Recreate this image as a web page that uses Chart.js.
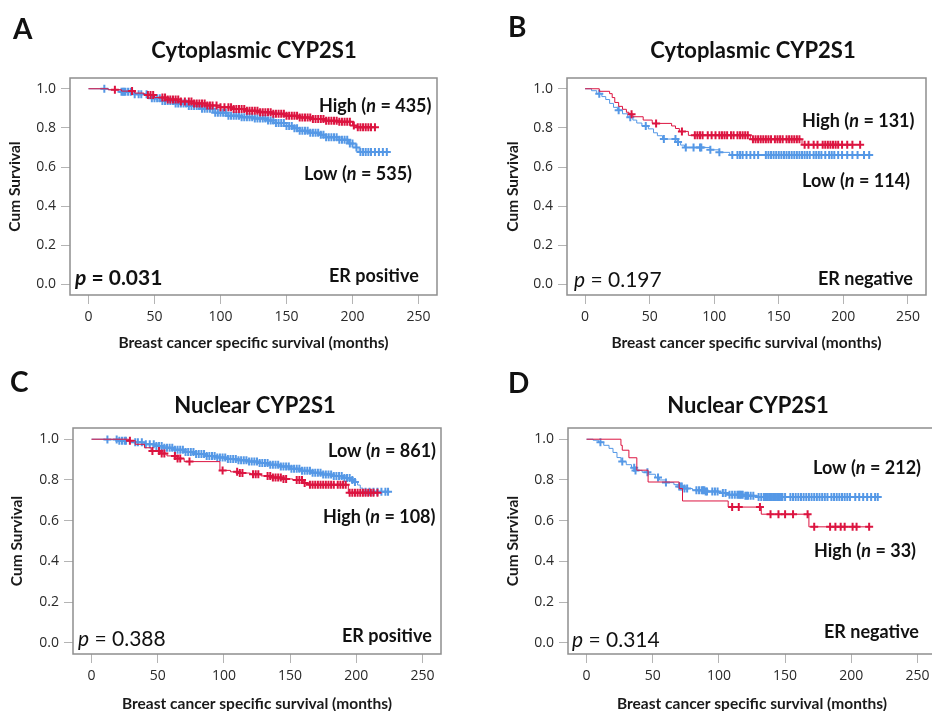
<!DOCTYPE html>
<html>
<head>
<meta charset="utf-8">
<script src="https://cdn.jsdelivr.net/npm/chart.js@4/dist/chart.umd.min.js"></script>
<style>
html, body { margin: 0; padding: 0; background: #fff; width: 932px; height: 711px; overflow: hidden; }
canvas { position: absolute; }
</style>
</head>
<body>
<canvas id="panel-a" width="466" height="355" style="left:0;top:0"></canvas>
<canvas id="panel-b" width="466" height="355" style="left:466px;top:0"></canvas>
<canvas id="panel-c" width="466" height="356" style="left:0;top:355px"></canvas>
<canvas id="panel-d" width="480" height="356" style="left:466px;top:355px"></canvas>
<script>
/* ── 数据：Kaplan-Meier 曲线（事件时间 / 生存率 / 删失时间） ── */

const X_TICKS = [0, 50, 100, 150, 200, 250];
const Y_TICKS = [0, 0.2, 0.4, 0.6, 0.8, 1.0];

// A: Cytoplasmic CYP2S1, ER positive
const A_HIGH_T = [0, 15, 25, 35, 42, 50, 60, 70, 80, 90, 100, 110, 120, 130, 140, 150, 160, 170, 180, 190, 200, 203];
const A_HIGH_S = [1, 0.995, 0.988, 0.978, 0.968, 0.955, 0.945, 0.935, 0.925, 0.915, 0.905, 0.896, 0.888, 0.88, 0.872, 0.862, 0.853, 0.845, 0.837, 0.832, 0.812, 0.803];
const A_HIGH_END = 217;
const A_HIGH_CENSOR = [20, 33, 45, 47, 49, 56, 58, 60, 62, 64, 66, 68, 70, 73, 76, 78, 80, 82, 84, 86, 88, 90, 92, 94, 97, 100, 103, 106, 108, 110, 112, 114, 116, 118, 120, 122, 124, 126, 128, 130, 132, 134, 136, 138, 140, 142, 144, 146, 148, 150, 152, 154, 156, 158, 160, 162, 164, 166, 168, 170, 172, 174, 176, 178, 180, 182, 184, 186, 188, 190, 192, 194, 196, 198, 201, 204, 206, 208, 210, 212, 214, 217];
const A_LOW_T = [0, 15, 25, 35, 45, 55, 65, 75, 85, 95, 105, 115, 125, 135, 142, 150, 155, 160, 168, 175, 180, 190, 197, 202, 205];
const A_LOW_S = [1, 0.995, 0.985, 0.972, 0.952, 0.938, 0.925, 0.912, 0.898, 0.878, 0.862, 0.855, 0.848, 0.838, 0.825, 0.81, 0.798, 0.785, 0.775, 0.765, 0.752, 0.74, 0.72, 0.7, 0.677];
const A_LOW_END = 226;
const A_LOW_CENSOR = [12, 25, 26, 27, 28, 30, 32, 35, 38, 40, 44, 48, 50, 52, 54, 56, 58, 60, 62, 64, 66, 68, 70, 72, 74, 76, 78, 80, 82, 84, 86, 88, 90, 92, 94, 96, 98, 100, 102, 104, 106, 108, 110, 112, 114, 116, 118, 120, 122, 124, 126, 128, 130, 132, 134, 136, 138, 140, 142, 144, 146, 148, 150, 152, 154, 156, 158, 160, 162, 164, 166, 168, 170, 172, 174, 176, 178, 180, 182, 184, 186, 188, 190, 192, 194, 196, 198, 200, 203, 206, 208, 210, 212, 214, 217, 220, 223, 226];

// B: Cytoplasmic CYP2S1, ER negative
const B_HIGH_T = [0, 11, 19, 21, 23, 26, 29, 32, 34, 37, 45, 52, 67, 70, 73, 80, 128, 168];
const B_HIGH_S = [1, 0.987, 0.975, 0.955, 0.93, 0.91, 0.895, 0.88, 0.87, 0.857, 0.84, 0.823, 0.81, 0.797, 0.782, 0.762, 0.742, 0.714];
const B_HIGH_END = 213;
const B_HIGH_CENSOR = [36, 55, 75, 85, 87, 89, 91, 95, 98, 101, 104, 106, 108, 110, 113, 115, 118, 120, 122, 124, 126, 130, 132, 134, 136, 138, 140, 142, 144, 147, 149, 151, 153, 156, 158, 160, 162, 164, 166, 170, 173, 177, 180, 184, 186, 188, 190, 192, 194, 196, 199, 203, 207, 213];
const B_LOW_T = [0, 5, 9, 13, 16, 19, 22, 25, 29, 33, 37, 40, 44, 49, 53, 56, 60, 72, 74, 77, 97, 104, 112];
const B_LOW_S = [1, 0.99, 0.975, 0.96, 0.945, 0.925, 0.905, 0.89, 0.872, 0.855, 0.84, 0.825, 0.81, 0.795, 0.775, 0.76, 0.743, 0.728, 0.712, 0.70, 0.688, 0.675, 0.662];
const B_LOW_END = 220;
const B_LOW_CENSOR = [11, 26, 35, 47, 61, 70, 72, 78, 84, 89, 90, 97, 104, 114, 118, 120, 122, 125, 128, 131, 134, 140, 142, 144, 146, 148, 150, 152, 154, 156, 158, 160, 162, 164, 166, 168, 170, 172, 174, 177, 179, 181, 183, 186, 189, 191, 193, 196, 199, 203, 207, 211, 216, 220];

// C: Nuclear CYP2S1, ER positive
const C_HIGH_T = [0, 28, 33, 40, 45, 52, 57, 65, 70, 97, 105, 112, 120, 128, 136, 145, 152, 160, 164, 194];
const C_HIGH_S = [1, 0.993, 0.975, 0.958, 0.942, 0.93, 0.918, 0.905, 0.89, 0.847, 0.84, 0.834, 0.828, 0.82, 0.812, 0.805, 0.8, 0.785, 0.776, 0.737];
const C_HIGH_END = 216;
const C_HIGH_CENSOR = [29, 46, 51, 53, 55, 63, 65, 67, 74, 99, 110, 112, 114, 122, 124, 126, 133, 135, 137, 139, 141, 143, 145, 147, 155, 157, 159, 161, 165, 167, 169, 171, 173, 175, 177, 179, 181, 183, 186, 188, 190, 192, 195, 197, 199, 201, 203, 205, 207, 209, 211, 213, 216];
const C_LOW_T = [0, 10, 20, 30, 40, 48, 55, 62, 70, 78, 86, 94, 102, 110, 118, 126, 134, 142, 150, 158, 166, 174, 182, 190, 196, 199, 201, 203, 205];
const C_LOW_S = [1, 0.998, 0.993, 0.985, 0.975, 0.967, 0.958, 0.948, 0.937, 0.928, 0.918, 0.91, 0.903, 0.897, 0.89, 0.883, 0.875, 0.866, 0.855, 0.845, 0.835, 0.827, 0.82, 0.81, 0.8, 0.79, 0.775, 0.76, 0.742];
const C_LOW_END = 224;
const C_LOW_CENSOR = [12, 19, 21, 23, 25, 26, 33, 35, 38, 41, 44, 47, 49, 51, 53, 55, 57, 59, 61, 63, 65, 67, 69, 71, 73, 75, 77, 79, 81, 83, 85, 87, 89, 91, 93, 95, 97, 99, 101, 103, 105, 107, 109, 111, 113, 115, 117, 119, 121, 123, 125, 127, 129, 131, 133, 135, 137, 139, 141, 143, 145, 147, 149, 151, 153, 155, 157, 159, 161, 163, 165, 167, 169, 171, 173, 175, 177, 179, 181, 183, 185, 187, 189, 191, 193, 195, 197, 199, 207, 210, 213, 216, 219, 222, 224];

// D: Nuclear CYP2S1, ER negative
const D_HIGH_T = [0, 26, 27, 32, 38, 46.5, 70, 72.5, 107, 132, 168];
const D_HIGH_S = [1, 0.97, 0.946, 0.909, 0.848, 0.79, 0.758, 0.697, 0.667, 0.632, 0.57];
const D_HIGH_END = 213.5;
const D_HIGH_CENSOR = [110, 115, 131, 139, 145, 150, 156, 167, 172, 184, 188, 192, 195, 201, 204, 213.5];
const D_LOW_T = [0, 5, 9, 13, 17, 20, 23, 26, 30, 34, 37, 42, 47, 52, 55, 60, 66, 70, 73, 80, 90, 100, 108, 120, 130];
const D_LOW_S = [1, 0.995, 0.985, 0.97, 0.955, 0.935, 0.91, 0.89, 0.875, 0.86, 0.847, 0.838, 0.828, 0.812, 0.8, 0.787, 0.777, 0.768, 0.758, 0.75, 0.744, 0.736, 0.728, 0.722, 0.716];
const D_LOW_END = 220;
const D_LOW_CENSOR = [10.5, 27, 36, 37, 46, 54, 60, 70, 71, 72, 74, 76, 83, 85, 87, 88, 89, 90, 91, 95, 97, 99, 103, 105, 108, 110, 112, 114, 115, 116, 117, 118, 120, 121, 122, 124, 126, 130, 132, 134, 135, 136, 137, 138, 139, 140, 141, 142, 143, 144, 145, 146, 147, 148, 150, 154, 156, 158, 160, 162, 164, 166, 168, 170, 172, 174, 176, 178, 180, 182, 185, 187, 189, 191, 193, 195, 197, 199, 203, 206, 209, 212, 215, 218, 220];

/* ── 样式 ── */
const RED = '#dc1440';
const BLUE = '#5598e6';
const X_MIN = -14, X_MAX = 264;
const Y_MIN = -0.054, Y_MAX = 1.055;

function survivalAt(T, S, t) {
    let s = S[0];
    for (let i = 0; i < T.length; i++) {
        if (T[i] <= t) s = S[i]; else break;
    }
    return s;
}
const curvePoints = (T, S, end) => T.map((t, i) => ({ x: t, y: S[i] })).concat([{ x: end, y: S[S.length - 1] }]);
const censorPoints = (T, S, C) => C.map(t => ({ x: t, y: survivalAt(T, S, t) }));

// 富文本（斜体 n / p）
function drawRich(ctx, item) {
    const weight = item.bold ? 'bold' : 'normal';
    const fontOf = it => `${it ? 'italic ' : ''}${weight} ${item.size}px Lato`;
    let total = 0;
    item.parts.forEach(([t, st]) => { ctx.font = fontOf(st === 'i'); total += ctx.measureText(t).width; });
    let x = item.cx !== undefined ? item.cx - total / 2 : item.x;
    ctx.fillStyle = '#111';
    ctx.textBaseline = 'alphabetic';
    ctx.textAlign = 'left';
    item.parts.forEach(([t, st]) => {
        ctx.font = fontOf(st === 'i');
        ctx.fillText(t, x, item.y);
        x += ctx.measureText(t).width;
    });
}

const panelDeco = {
    id: 'panelDeco',
    afterDraw(chart, args, opts) {
        const { ctx, chartArea: a } = chart;
        ctx.save();
        ctx.strokeStyle = '#8e8e8e';
        ctx.lineWidth = 1.5;
        ctx.strokeRect(a.left, a.top, a.right - a.left, a.bottom - a.top);
        (opts.texts || []).forEach(t => drawRich(ctx, t));
        ctx.restore();
    },
};

function makePanel(id, box, d, texts) {
    const canvas = document.getElementById(id);
    const cw = canvas.width, ch = canvas.height;
    const tickGrid = { drawOnChartArea: false, drawTicks: true, tickLength: 9, color: '#b4b4b4', lineWidth: 1 };
    const axisTitleFont = { family: 'Lato', size: 15.5, weight: 'bold' };
    const mark = { pointStyle: 'cross', pointRadius: 4, borderWidth: 2 };

    return new Chart(canvas.getContext('2d'), {
        type: 'scatter',
        data: {
            datasets: [
                { data: censorPoints(d.hiT, d.hiS, d.hiC), ...mark, borderColor: RED, backgroundColor: RED },
                { data: curvePoints(d.hiT, d.hiS, d.hiEnd), showLine: true, stepped: 'before', pointRadius: 0, borderWidth: 1, borderColor: RED },
                { data: censorPoints(d.loT, d.loS, d.loC), ...mark, borderColor: BLUE, backgroundColor: BLUE },
                { data: curvePoints(d.loT, d.loS, d.loEnd), showLine: true, stepped: 'before', pointRadius: 0, borderWidth: 1, borderColor: BLUE },
            ],
        },
        options: {
            responsive: false,
            animation: false,
            events: [],
            devicePixelRatio: 1,
            layout: { padding: { left: 0, top: box.top, right: cw - box.right, bottom: 0 } },
            plugins: {
                legend: { display: false },
                tooltip: { enabled: false },
                panelDeco: { texts },
            },
            scales: {
                x: {
                    type: 'linear', min: X_MIN, max: X_MAX,
                    afterBuildTicks: s => { s.ticks = X_TICKS.map(v => ({ value: v })); },
                    afterFit: s => { s.height = ch - box.bottom; },
                    grid: tickGrid,
                    border: { display: false },
                    ticks: { font: { family: 'Open Sans', size: 14 }, color: '#2a2a2a', padding: 5, maxRotation: 0, callback: v => String(v) },
                    title: { display: true, text: 'Breast cancer specific survival (months)', font: axisTitleFont, color: '#1a1a1a', padding: { top: 0, bottom: box.xTitlePad } },
                },
                y: {
                    type: 'linear', min: Y_MIN, max: Y_MAX,
                    afterBuildTicks: s => { s.ticks = Y_TICKS.map(v => ({ value: v })); },
                    afterFit: s => { s.width = box.left; },
                    grid: tickGrid,
                    border: { display: false },
                    ticks: { font: { family: 'Open Sans', size: 14 }, color: '#2a2a2a', padding: 5, callback: v => v.toFixed(1) },
                    title: { display: true, text: 'Cum Survival', font: axisTitleFont, color: '#1a1a1a', padding: { top: box.yTitlePad, bottom: 0 } },
                },
            },
        },
        plugins: [panelDeco],
    });
}

const label = (x, y, size, bold, parts) => ({ x, y, size, bold, parts });
const centred = (cx, y, size, parts) => ({ cx, y, size, bold: true, parts });

makePanel('panel-a', { left: 70, top: 78, right: 437, bottom: 295, xTitlePad: 3, yTitlePad: 5.5 },
    { hiT: A_HIGH_T, hiS: A_HIGH_S, hiEnd: A_HIGH_END, hiC: A_HIGH_CENSOR, loT: A_LOW_T, loS: A_LOW_S, loEnd: A_LOW_END, loC: A_LOW_CENSOR },
    [
        label(13, 39, 28, true, [['A']]),
        centred(254, 58, 22, [['Cytoplasmic CYP2S1']]),
        label(319, 112, 18, true, [['High ('], ['n', 'i'], [' = 435)']]),
        label(304, 180, 18, true, [['Low ('], ['n', 'i'], [' = 535)']]),
        label(75, 285, 21, true, [['p', 'i'], [' = 0.031']]),
        label(329, 282, 18, true, [['ER positive']]),
    ]);

makePanel('panel-b', { left: 101, top: 78, right: 464, bottom: 295, xTitlePad: 3, yTitlePad: 37.5 },
    { hiT: B_HIGH_T, hiS: B_HIGH_S, hiEnd: B_HIGH_END, hiC: B_HIGH_CENSOR, loT: B_LOW_T, loS: B_LOW_S, loEnd: B_LOW_END, loC: B_LOW_CENSOR },
    [
        label(42, 37, 28, true, [['B']]),
        centred(287, 58, 22, [['Cytoplasmic CYP2S1']]),
        label(336, 127, 18, true, [['High ('], ['n', 'i'], [' = 131)']]),
        label(336, 187, 18, true, [['Low ('], ['n', 'i'], [' = 114)']]),
        label(108, 287, 21, false, [['p', 'i'], [' = 0.197']]),
        label(352, 285, 18, true, [['ER negative']]),
    ]);

makePanel('panel-c', { left: 73, top: 73, right: 441, bottom: 299, xTitlePad: -2, yTitlePad: 7.5 },
    { hiT: C_HIGH_T, hiS: C_HIGH_S, hiEnd: C_HIGH_END, hiC: C_HIGH_CENSOR, loT: C_LOW_T, loS: C_LOW_S, loEnd: C_LOW_END, loC: C_LOW_CENSOR },
    [
        label(10, 37, 28, true, [['C']]),
        centred(255, 58, 22, [['Nuclear CYP2S1']]),
        label(328, 102, 18, true, [['Low ('], ['n', 'i'], [' = 861)']]),
        label(323, 168, 18, true, [['High ('], ['n', 'i'], [' = 108)']]),
        label(78, 291, 21, false, [['p', 'i'], [' = 0.388']]),
        label(342, 287, 18, true, [['ER positive']]),
    ]);

makePanel('panel-d', { left: 102, top: 73, right: 470, bottom: 299, xTitlePad: -2, yTitlePad: 37.5 },
    { hiT: D_HIGH_T, hiS: D_HIGH_S, hiEnd: D_HIGH_END, hiC: D_HIGH_CENSOR, loT: D_LOW_T, loS: D_LOW_S, loEnd: D_LOW_END, loC: D_LOW_CENSOR },
    [
        label(42, 38, 28, true, [['D']]),
        centred(282, 58, 22, [['Nuclear CYP2S1']]),
        label(347, 119, 18, true, [['Low ('], ['n', 'i'], [' = 212)']]),
        label(348, 202, 18, true, [['High ('], ['n', 'i'], [' = 33)']]),
        label(106, 292, 21, false, [['p', 'i'], [' = 0.314']]),
        label(358, 283, 18, true, [['ER negative']]),
    ]);
</script>
</body>
</html>
